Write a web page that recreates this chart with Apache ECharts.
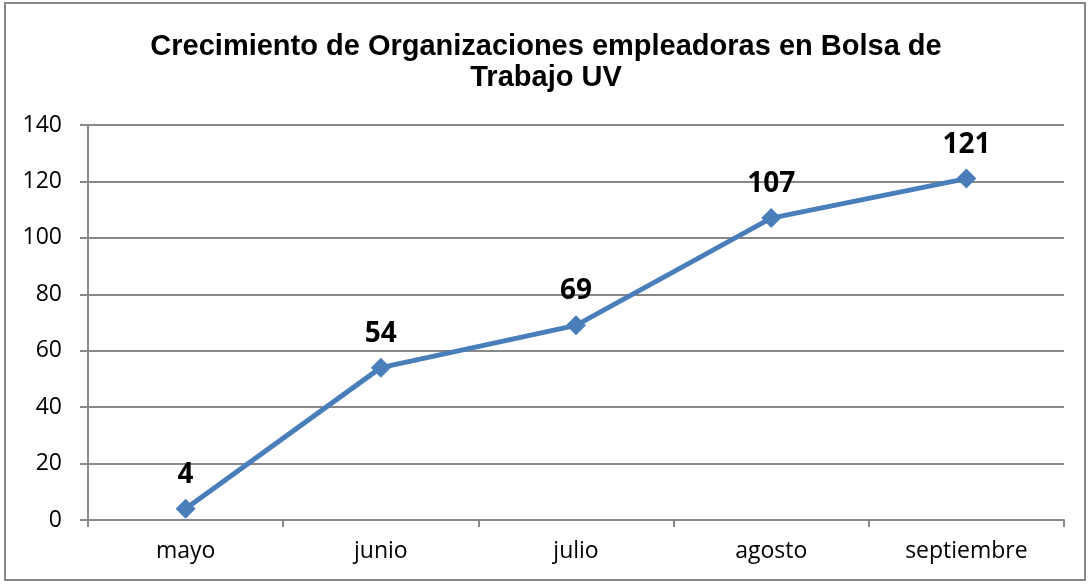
<!DOCTYPE html>
<html>
<head>
<meta charset="utf-8">
<script src="https://cdn.jsdelivr.net/npm/echarts@6/dist/echarts.min.js"></script>
<style>
  html, body { margin: 0; padding: 0; background: #fff; }
  #chart { width: 1092px; height: 586px; }
  #frame { position: absolute; left: 4px; top: 2px; width: 1082px; height: 579px; border: 2px solid #888; box-sizing: border-box; pointer-events: none; }
</style>
</head>
<body>
<div id="chart"></div>
<div id="frame"></div>
<script>
// data
var meses = ['mayo', 'junio', 'julio', 'agosto', 'septiembre'];
var organizaciones = [4, 54, 69, 107, 121];
var titulo = 'Crecimiento de Organizaciones empleadoras en Bolsa de\nTrabajo UV';

var chart = echarts.init(document.getElementById('chart'));
var option = {
    animation: false,
    title: {
        text: titulo,
        left: 'center',
        top: 26,
        textStyle: {
            fontFamily: 'Liberation Sans',
            fontWeight: 'bold',
            fontSize: 29,
            lineHeight: 31,
            color: '#000'
        }
    },
    grid: {
        left: 88,
        right: 28,
        top: 125,
        bottom: 66
    },
    xAxis: {
        type: 'category',
        data: meses,
        boundaryGap: true,
        axisLine: { lineStyle: { color: '#888', width: 2 } },
        axisTick: { show: true, length: 7, lineStyle: { color: '#888', width: 2 } },
        axisLabel: { fontFamily: 'Open Sans', fontSize: 23, color: '#000', margin: 20 }
    },
    yAxis: {
        type: 'value',
        min: 0,
        max: 140,
        interval: 20,
        axisLine: { show: true, lineStyle: { color: '#888', width: 2 } },
        axisTick: { show: true, length: 8, lineStyle: { color: '#888', width: 2 } },
        axisLabel: { fontFamily: 'Open Sans', fontSize: 23, color: '#000', margin: 26 },
        splitLine: { lineStyle: { color: '#888', width: 2 } }
    },
    series: [{
        type: 'line',
        data: organizaciones,
        symbol: 'diamond',
        symbolSize: 20,
        itemStyle: { color: '#4a7ebb' },
        lineStyle: { color: '#4a7ebb', width: 5 },
        label: {
            show: true,
            position: 'top',
            distance: 10,
            fontFamily: 'Open Sans',
            fontWeight: 'bold',
            fontSize: 28,
            color: '#000'
        }
    }]
};
chart.setOption(option);
</script>
</body>
</html>
